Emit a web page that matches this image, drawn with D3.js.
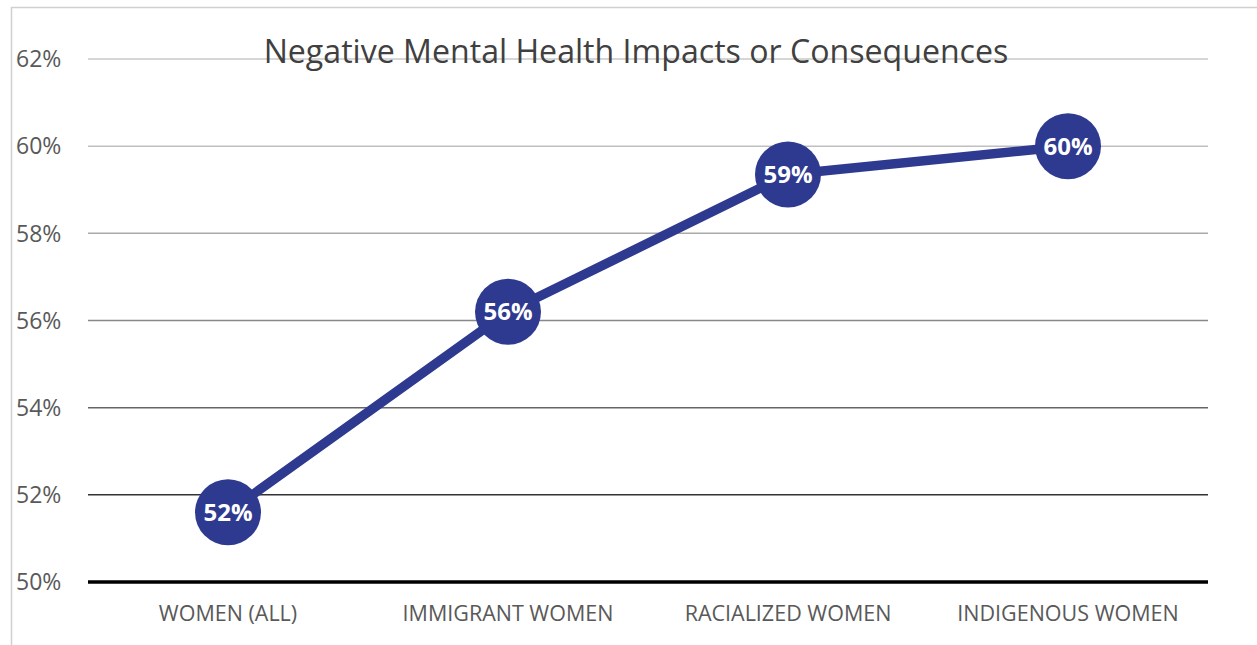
<!DOCTYPE html>
<html><head><meta charset="utf-8">
<script src="https://cdn.jsdelivr.net/npm/d3@7"></script>
<style>body{margin:0;background:#fff}svg{display:block}</style>
</head><body>
<script>
const categories = ["WOMEN (ALL)", "IMMIGRANT WOMEN", "RACIALIZED WOMEN", "INDIGENOUS WOMEN"];
const values = [51.6, 56.2, 59.35, 60.0];
const yTicks = [50, 52, 54, 56, 58, 60, 62];
const gridColors = ["#000000", "#333333", "#666666", "#888888", "#aaaaaa", "#c0c0c0", "#c8c8c8"];
const title = "Negative Mental Health Impacts or Consequences";

const W = 1257, H = 645;
const svg = d3.select("body").append("svg").attr("width", W).attr("height", H);
const font = "'Open Sans', 'Noto Sans', sans-serif";

// chart border
svg.append("path").attr("d", `M11.5,${H} L11.5,7.5 L${W},7.5`).attr("fill","none").attr("stroke","#d0d0d0").attr("stroke-width",1.5);

const x = d3.scaleBand().domain(categories).range([88, 1208]);
const y = d3.scaleLinear().domain([50, 62]).range([582, 59]);

// gridlines
svg.append("g").selectAll("line").data(yTicks).join("line")
  .attr("x1", 88).attr("x2", 1208)
  .attr("y1", d => y(d)).attr("y2", d => y(d))
  .attr("stroke", (d,i) => gridColors[i])
  .attr("stroke-width", d => d === 50 ? 3.5 : 1.5);

// y axis labels
svg.append("g").selectAll("text").data(yTicks).join("text")
  .attr("x", 16).attr("y", d => y(d)).attr("dy", "0.36em")
  .attr("font-family", font).attr("font-size", 23).attr("fill", "#595959")
  .text(d => d + "%");

// x axis labels
svg.append("g").selectAll("text").data(categories).join("text")
  .attr("x", d => x(d) + x.bandwidth()/2).attr("y", 621)
  .attr("text-anchor", "middle")
  .attr("font-family", font).attr("font-size", 21.5).attr("fill", "#595959")
  .text(d => d);

// title
const t = svg.append("text").attr("x", 636).attr("y", 63).attr("text-anchor","middle")
  .attr("font-family", font).attr("font-size", 28).attr("fill", "#404040").text(title);
const tl = t.node().getComputedTextLength();
t.attr("font-size", 28 * 745 / tl);

// line
const pts = categories.map((c,i) => ({c, v: values[i]}));
const line = d3.line().x(d => x(d.c) + x.bandwidth()/2).y(d => y(d.v));
svg.append("path").datum(pts).attr("d", line)
  .attr("fill","none").attr("stroke","#2E3A8F").attr("stroke-width", 9.5).attr("stroke-linejoin","round");

// markers
const g = svg.append("g").selectAll("g").data(pts).join("g")
  .attr("transform", d => `translate(${x(d.c) + x.bandwidth()/2},${y(d.v)})`);
g.append("circle").attr("r", 33).attr("fill", "#2E3A8F");
g.append("text").attr("text-anchor","middle").attr("dy","0.36em")
  .attr("font-family", font).attr("font-weight","bold").attr("font-size", 24).attr("fill","#fff")
  .text(d => Math.round(d.v) + "%");
</script>
</body></html>
